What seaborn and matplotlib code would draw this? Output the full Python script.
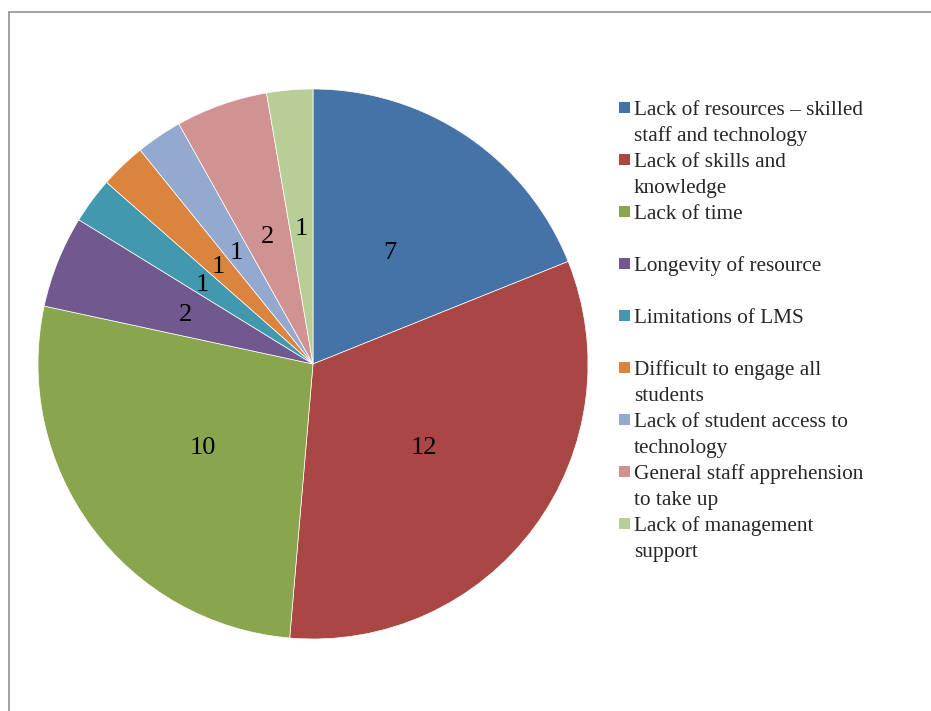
"""Pie chart of barriers to e-learning resource development, with a Word-style legend."""
import matplotlib.pyplot as plt
import seaborn as sns
from matplotlib.patches import Rectangle

# data
categories = [
    "Lack of resources \u2013 skilled\nstaff and technology",
    "Lack of skills and\nknowledge",
    "Lack of time",
    "Longevity of resource",
    "Limitations of LMS",
    "Difficult to engage all\nstudents",
    "Lack of student access to\ntechnology",
    "General staff apprehension\nto take up",
    "Lack of management\nsupport",
]
counts = [7, 12, 10, 2, 1, 1, 1, 2, 1]
colors = ["#4572A7", "#AA4643", "#89A54E", "#71588F", "#4198AF",
          "#DB843D", "#93A9CF", "#D19392", "#B9CD96"]

W, H = 931, 711


def main():
    sns.set_style("white")
    plt.rcParams["font.family"] = ["Liberation Serif", "DejaVu Serif"]
    palette = sns.color_palette(colors)
    total = sum(counts)

    fig = plt.figure(figsize=(W / 100, H / 100), dpi=100)
    cx, cy, r = 313, 364, 275
    ax = fig.add_axes([(cx - r) / W, (H - cy - r) / H, 2 * r / W, 2 * r / H])
    _, _, autotexts = ax.pie(
        counts, colors=palette, startangle=90, counterclock=False, radius=1,
        autopct=lambda p: f"{round(p * total / 100)}", pctdistance=0.5,
        textprops={"fontsize": 19, "color": "black"},
        wedgeprops={"edgecolor": "white", "linewidth": 0.5},
    )
    for t in autotexts:
        t.set_va("center_baseline")
    ax.set_xlim(-1, 1)
    ax.set_ylim(-1, 1)
    ax.set_aspect("equal")

    # legend, drawn like the Word one: swatch next to first line
    for i, (label, col) in enumerate(zip(categories, palette)):
        base = 115 + 52 * i
        fig.patches.append(Rectangle(
            (619 / W, 1 - (base - 2) / H), 11 / W, 11 / H,
            transform=fig.transFigure, facecolor=col, edgecolor="none"))
        for j, line in enumerate(label.split("\n")):
            fig.text(634 / W, 1 - (base + 26 * j) / H, line,
                     fontsize=15.3, va="baseline", ha="left")

    # outer frame, runs off the right and bottom edges
    fig.patches.append(Rectangle(
        (9 / W, -0.1), 1.2, 1.1 - 12 / H, transform=fig.transFigure,
        facecolor="none", edgecolor="#878787", linewidth=1.1))

    fig.savefig("out.png", dpi=100)
    plt.close(fig)


if __name__ == "__main__":
    main()
